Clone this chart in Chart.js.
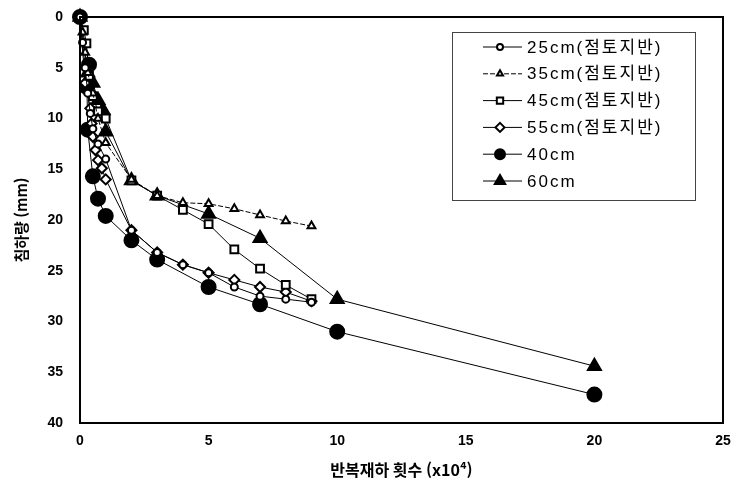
<!DOCTYPE html>
<html lang="ko">
<head>
    <meta charset="UTF-8">
    <title>침하량</title>
    <script src="https://cdn.jsdelivr.net/npm/chart.js"></script>
    <style>
        body { margin: 0; background: #fff; }
        canvas { display: block; }
    </style>
</head>
<body>
<canvas id="myChart" width="733" height="485"></canvas>

<script>
    // 반복재하 횟수 (x10^4) / 침하량 (mm)
    const s25x = [0, 0.1, 0.2, 0.3, 0.4, 0.5, 0.7, 1, 2, 3, 4, 5, 6, 7, 8, 9];
    const s25y = [0, 2.5, 5.0, 7.5, 9.5, 11.0, 12.5, 14.0, 21.0, 23.2, 24.4, 25.2, 26.6, 27.5, 27.8, 28.1];

    const s35x = [0, 0.1, 0.2, 0.3, 0.5, 0.7, 1, 2, 3, 4, 5, 6, 7, 8, 9];
    const s35y = [0, 1.5, 3.5, 5.5, 7.5, 10.0, 12.4, 16.0, 17.6, 18.3, 18.4, 18.9, 19.5, 20.1, 20.6];

    const s45x = [0, 0.15, 0.25, 0.35, 0.5, 0.7, 1, 2, 3, 4, 5, 6, 7, 8, 9];
    const s45y = [0, 1.3, 2.6, 5.8, 7.8, 9.3, 10.0, 16.1, 17.6, 19.0, 20.4, 22.9, 24.8, 26.4, 27.8];

    const s55x = [0, 0.2, 0.4, 0.45, 0.5, 0.6, 0.7, 0.85, 1, 2, 3, 4, 5, 6, 7, 8, 9];
    const s55y = [0, 6.5, 9.0, 10.5, 11.8, 13.1, 14.1, 14.9, 16.0, 21.0, 23.2, 24.4, 25.2, 25.9, 26.6, 27.1, 28.0];

    const s40x = [0, 0.35, 0.27, 0.3, 0.5, 0.7, 1, 2, 3, 5, 7, 10, 20];
    const s40y = [0, 4.7, 6.9, 11.1, 15.7, 17.9, 19.6, 22.0, 23.9, 26.6, 28.3, 31.0, 37.2];

    const s60x = [0, 0.3, 0.5, 0.7, 0.9, 1, 2, 3, 5, 7, 10, 20];
    const s60y = [0, 5.5, 6.5, 8.2, 9.2, 11.3, 16.1, 17.6, 19.4, 21.8, 27.8, 34.4];

    const labels = ['25cm(점토지반)', '35cm(점토지반)', '45cm(점토지반)', '55cm(점토지반)', '40cm', '60cm'];
    const xTicks = [0, 5, 10, 15, 20, 25];
    const yTicks = [0, 5, 10, 15, 20, 25, 30, 35, 40];

    const toPoints = (xs, ys) => xs.map((x, i) => ({x: x, y: ys[i]}));

    const tickFont = {family: 'Liberation Sans', size: 14, weight: 'bold'};
    const titleFont = {family: 'Noto Sans CJK KR', size: 15, weight: 'bold'};

    // marker styles: [pointStyle, radius, fill, legend radius]
    const styles = [
        ['circle', 3.5, '#fff', 3],
        ['triangle', 4.5, '#fff', 3.5],
        ['rect', 5.5, '#fff', 4.5],
        ['rectRot', 5, '#fff', 4.5],
        ['circle', 7, '#000', 5],
        ['triangle', 7.5, '#000', 6]
    ];
    const dashes = [[], [5, 2], [], [], [], []];
    const series = [[s25x, s25y], [s35x, s35y], [s45x, s45y], [s55x, s55y], [s40x, s40y], [s60x, s60y]];

    const datasets = series.map((s, i) => ({
        label: labels[i],
        data: toPoints(s[0], s[1]),
        showLine: true,
        borderColor: '#000',
        borderWidth: 1,
        borderDash: dashes[i],
        pointStyle: styles[i][0],
        pointRadius: styles[i][1],
        pointBackgroundColor: styles[i][2],
        pointBorderColor: '#000',
        pointBorderWidth: 2,
        clip: false
    }));

    // frame around the plot + boxed legend with line and marker
    const framePlugin = {
        id: 'frame',
        afterDraw(chart) {
            const ctx = chart.ctx;
            const a = chart.chartArea;
            ctx.save();
            ctx.strokeStyle = '#000';
            ctx.lineWidth = 2;
            ctx.strokeRect(a.left, a.top, a.right - a.left, a.bottom - a.top);

            // legend box
            ctx.lineWidth = 1;
            ctx.fillStyle = '#fff';
            ctx.fillRect(452, 32, 243, 168);
            ctx.strokeStyle = '#444';
            ctx.strokeRect(452.5, 32.5, 243, 168);

            ctx.font = '17px "Liberation Sans", "Noto Sans CJK KR"';
            ctx.textBaseline = 'middle';
            labels.forEach((lab, i) => {
                const y = 47 + i * 26.8;
                ctx.strokeStyle = '#000';
                ctx.lineWidth = 1;
                ctx.setLineDash(dashes[i]);
                ctx.beginPath();
                ctx.moveTo(483, y);
                ctx.lineTo(522, y);
                ctx.stroke();
                ctx.setLineDash([]);
                ctx.fillStyle = styles[i][2];
                ctx.lineWidth = 2;
                Chart.helpers.drawPoint(ctx, {
                    pointStyle: styles[i][0],
                    radius: styles[i][3],
                    rotation: 0,
                    borderWidth: 2
                }, 500, y);
                ctx.fillStyle = '#000';
                ctx.letterSpacing = '2px';
                ctx.fillText(lab, 527, y + 1);
                ctx.letterSpacing = '0px';
            });
            ctx.restore();
        }
    };

    const ctx = document.getElementById('myChart').getContext('2d');
    new Chart(ctx, {
        type: 'scatter',
        data: {datasets: datasets},
        plugins: [framePlugin],
        options: {
            responsive: false,
            animation: false,
            layout: {padding: {top: 17, right: 10, left: 0, bottom: 0}},
            plugins: {
                legend: {display: false},
                tooltip: {enabled: false}
            },
            scales: {
                x: {
                    type: 'linear',
                    min: 0,
                    max: 25,
                    afterFit: s => { s.height = 62; s.paddingLeft = 0; s.paddingRight = 0; },
                    afterBuildTicks: s => { s.ticks = xTicks.map(v => ({value: v})); },
                    grid: {display: false, drawTicks: false},
                    border: {color: '#000', width: 2},
                    ticks: {color: '#000', font: tickFont, padding: 10},
                    title: {
                        display: true,
                        text: '반복재하 횟수 (x10⁴)',
                        color: '#000',
                        font: {family: 'Noto Sans CJK KR', size: 16, weight: 'bold'},
                        padding: {top: 0, bottom: 5}
                    }
                },
                y: {
                    type: 'linear',
                    reverse: true,
                    min: 0,
                    max: 40,
                    afterFit: s => { s.width = 80; s.paddingTop = 0; s.paddingBottom = 0; },
                    afterBuildTicks: s => { s.ticks = yTicks.map(v => ({value: v})); },
                    grid: {display: false, drawTicks: false},
                    border: {color: '#000', width: 2},
                    ticks: {color: '#000', font: tickFont, padding: 17},
                    title: {
                        display: true,
                        text: '침하량 (mm)',
                        color: '#000',
                        font: titleFont,
                        padding: {top: 12, bottom: 0}
                    }
                }
            }
        }
    });
</script>
</body>
</html>
